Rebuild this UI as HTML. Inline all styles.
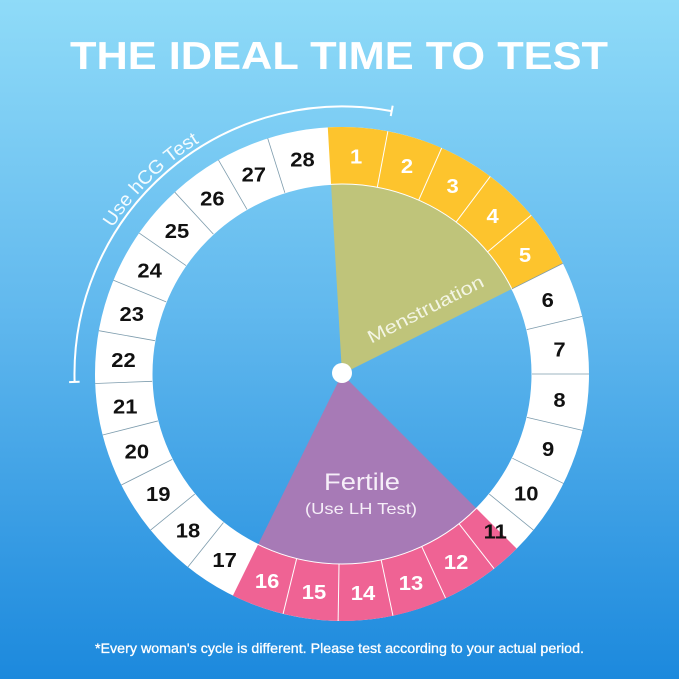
<!DOCTYPE html>
<html><head><meta charset="utf-8"><style>
html,body{margin:0;padding:0;width:679px;height:679px;overflow:hidden}
svg{display:block}
</style></head><body>
<svg width="679" height="679" viewBox="0 0 679 679" xmlns="http://www.w3.org/2000/svg">
<defs>
<linearGradient id="bg" x1="0" y1="0" x2="0" y2="1">
<stop offset="0" stop-color="#8fdbf8"/>
<stop offset="0.45" stop-color="#62b9ee"/>
<stop offset="1" stop-color="#1c89dd"/>
</linearGradient>
<path id="hcg" d="M112.60 227.85 A272 272 0 0 1 248.97 118.4" fill="none"/>
</defs>
<rect width="679" height="679" fill="url(#bg)"/>

<text x="70" y="69" font-family="Liberation Sans, sans-serif" font-weight="bold" font-size="39" fill="#ffffff" textLength="538" lengthAdjust="spacingAndGlyphs">THE IDEAL TIME TO TEST</text>

<!-- wedges -->
<path d="M342 374 L331.06 184.32 A190 190 0 0 1 511.89 288.93 Z" fill="#bfc47a"/>
<path d="M342 374 L476.35 508.35 A190 190 0 0 1 258.11 544.48 Z" fill="#a77ab6"/>

<!-- ring -->
<circle cx="342" cy="374" r="218.5" fill="none" stroke="#ffffff" stroke-width="57"/>
<circle cx="342" cy="374" r="218.5" fill="none" stroke="#fdc42d" stroke-width="57" stroke-dasharray="254.37 1500" transform="rotate(-93.3 342 374)"/>
<circle cx="342" cy="374" r="218.5" fill="none" stroke="#ef6394" stroke-width="57" stroke-dasharray="271.52 1500" transform="rotate(45 342 374)"/>
<circle cx="342" cy="374" r="190" fill="none" stroke="#ffffff" stroke-width="1"/>

<!-- dividers -->
<g stroke="#7d9cad" stroke-width="0.8">
<line x1="342" y1="184" x2="342" y2="127" transform="rotate(63.4 342 374)"/>
<line x1="342" y1="184" x2="342" y2="127" transform="rotate(76.5 342 374)"/>
<line x1="342" y1="184" x2="342" y2="127" transform="rotate(90 342 374)"/>
<line x1="342" y1="184" x2="342" y2="127" transform="rotate(103.2 342 374)"/>
<line x1="342" y1="184" x2="342" y2="127" transform="rotate(116.3 342 374)"/>
<line x1="342" y1="184" x2="342" y2="127" transform="rotate(129.2 342 374)"/>
<line x1="342" y1="184" x2="342" y2="127" transform="rotate(218.6 342 374)"/>
<line x1="342" y1="184" x2="342" y2="127" transform="rotate(230.8 342 374)"/>
<line x1="342" y1="184" x2="342" y2="127" transform="rotate(243.3 342 374)"/>
<line x1="342" y1="184" x2="342" y2="127" transform="rotate(255.7 342 374)"/>
<line x1="342" y1="184" x2="342" y2="127" transform="rotate(267.8 342 374)"/>
<line x1="342" y1="184" x2="342" y2="127" transform="rotate(280.1 342 374)"/>
<line x1="342" y1="184" x2="342" y2="127" transform="rotate(292.3 342 374)"/>
<line x1="342" y1="184" x2="342" y2="127" transform="rotate(304.8 342 374)"/>
<line x1="342" y1="184" x2="342" y2="127" transform="rotate(317.4 342 374)"/>
<line x1="342" y1="184" x2="342" y2="127" transform="rotate(330 342 374)"/>
<line x1="342" y1="184" x2="342" y2="127" transform="rotate(342.5 342 374)"/>
</g>
<g stroke="#ffffff" stroke-width="1">
<line x1="342" y1="184" x2="342" y2="127" transform="rotate(10.7 342 374)"/>
<line x1="342" y1="184" x2="342" y2="127" transform="rotate(23.8 342 374)"/>
<line x1="342" y1="184" x2="342" y2="127" transform="rotate(36.9 342 374)"/>
<line x1="342" y1="184" x2="342" y2="127" transform="rotate(50 342 374)"/>
<line x1="342" y1="184" x2="342" y2="127" transform="rotate(142 342 374)"/>
<line x1="342" y1="184" x2="342" y2="127" transform="rotate(155.2 342 374)"/>
<line x1="342" y1="184" x2="342" y2="127" transform="rotate(168.1 342 374)"/>
<line x1="342" y1="184" x2="342" y2="127" transform="rotate(180.9 342 374)"/>
<line x1="342" y1="184" x2="342" y2="127" transform="rotate(193.8 342 374)"/>
</g>

<!-- numbers -->
<g font-family="Liberation Sans, sans-serif" font-weight="bold" font-size="20" text-anchor="middle">
<g fill="#ffffff">
<text transform="rotate(3.7 342 375) translate(342 156) rotate(-3.7) scale(1.1 1)" y="7">1</text>
<text transform="rotate(17.25 342 375) translate(342 156) rotate(-17.25) scale(1.1 1)" y="7">2</text>
<text transform="rotate(30.35 342 375) translate(342 156) rotate(-30.35) scale(1.1 1)" y="7">3</text>
<text transform="rotate(43.45 342 375) translate(342 156) rotate(-43.45) scale(1.1 1)" y="7">4</text>
<text transform="rotate(56.7 342 375) translate(342 156) rotate(-56.7) scale(1.1 1)" y="7">5</text>
<text transform="rotate(148.6 342 375) translate(342 156) rotate(-148.6) scale(1.1 1)" y="7">12</text>
<text transform="rotate(161.65 342 375) translate(342 156) rotate(-161.65) scale(1.1 1)" y="7">13</text>
<text transform="rotate(174.5 342 375) translate(342 156) rotate(-174.5) scale(1.1 1)" y="7">14</text>
<text transform="rotate(187.35 342 375) translate(342 156) rotate(-187.35) scale(1.1 1)" y="7">15</text>
<text transform="rotate(200 342 375) translate(342 156) rotate(-200) scale(1.1 1)" y="7">16</text>
</g>
<g fill="#111111">
<text transform="rotate(69.95 342 375) translate(342 156) rotate(-69.95) scale(1.1 1)" y="7">6</text>
<text transform="rotate(83.25 342 375) translate(342 156) rotate(-83.25) scale(1.1 1)" y="7">7</text>
<text transform="rotate(96.6 342 375) translate(342 156) rotate(-96.6) scale(1.1 1)" y="7">8</text>
<text transform="rotate(109.75 342 375) translate(342 156) rotate(-109.75) scale(1.1 1)" y="7">9</text>
<text transform="rotate(122.75 342 375) translate(342 156) rotate(-122.75) scale(1.1 1)" y="7">10</text>
<text transform="rotate(135.6 342 375) translate(342 156) rotate(-135.6) scale(1.1 1)" y="7">11</text>
<text transform="rotate(212.4 342 375) translate(342 156) rotate(-212.4) scale(1.1 1)" y="7">17</text>
<text transform="rotate(224.7 342 375) translate(342 156) rotate(-224.7) scale(1.1 1)" y="7">18</text>
<text transform="rotate(237.05 342 375) translate(342 156) rotate(-237.05) scale(1.1 1)" y="7">19</text>
<text transform="rotate(249.5 342 375) translate(342 156) rotate(-249.5) scale(1.1 1)" y="7">20</text>
<text transform="rotate(261.75 342 375) translate(342 156) rotate(-261.75) scale(1.1 1)" y="7">21</text>
<text transform="rotate(273.95 342 375) translate(342 156) rotate(-273.95) scale(1.1 1)" y="7">22</text>
<text transform="rotate(286.2 342 375) translate(342 156) rotate(-286.2) scale(1.1 1)" y="7">23</text>
<text transform="rotate(298.55 342 375) translate(342 156) rotate(-298.55) scale(1.1 1)" y="7">24</text>
<text transform="rotate(311.1 342 375) translate(342 156) rotate(-311.1) scale(1.1 1)" y="7">25</text>
<text transform="rotate(323.7 342 375) translate(342 156) rotate(-323.7) scale(1.1 1)" y="7">26</text>
<text transform="rotate(336.25 342 375) translate(342 156) rotate(-336.25) scale(1.1 1)" y="7">27</text>
<text transform="rotate(349.6 342 375) translate(342 156) rotate(-349.6) scale(1.1 1)" y="7">28</text>
</g>
</g>

<!-- hCG arc -->
<path d="M74.6 381.9 A267.5 267.5 0 0 1 391.67 111.15" fill="none" stroke="#ffffff" stroke-width="2"/>
<line x1="342" y1="111.5" x2="342" y2="101" stroke="#ffffff" stroke-width="2" transform="rotate(-91.7 342 374)"/>
<line x1="342" y1="111.5" x2="342" y2="101" stroke="#ffffff" stroke-width="2" transform="rotate(10.7 342 374)"/>
<text font-family="Liberation Sans, sans-serif" font-size="19" fill="#f2fbff"><textPath href="#hcg" textLength="123" lengthAdjust="spacingAndGlyphs">Use hCG Test</textPath></text>

<!-- wedge labels -->
<text x="0" y="0" transform="translate(428.3 314.7) rotate(-27)" text-anchor="middle" font-family="Liberation Sans, sans-serif" font-size="18" fill="#f3f5e4" textLength="128" lengthAdjust="spacingAndGlyphs">Menstruation</text>
<text x="362" y="490" text-anchor="middle" font-family="Liberation Sans, sans-serif" font-size="24" fill="#f6eef8" textLength="76" lengthAdjust="spacingAndGlyphs">Fertile</text>
<text x="361" y="514" text-anchor="middle" font-family="Liberation Sans, sans-serif" font-size="16" fill="#f6eef8" textLength="112" lengthAdjust="spacingAndGlyphs">(Use LH Test)</text>

<!-- center dot -->
<circle cx="342" cy="373" r="10" fill="#ffffff"/>

<!-- footer -->
<text x="95" y="653" font-family="Liberation Sans, sans-serif" font-size="14" fill="#ffffff" stroke="#ffffff" stroke-width="0.3" textLength="489" lengthAdjust="spacingAndGlyphs">*Every woman's cycle is different. Please test according to your actual period.</text>
</svg>
</body></html>
